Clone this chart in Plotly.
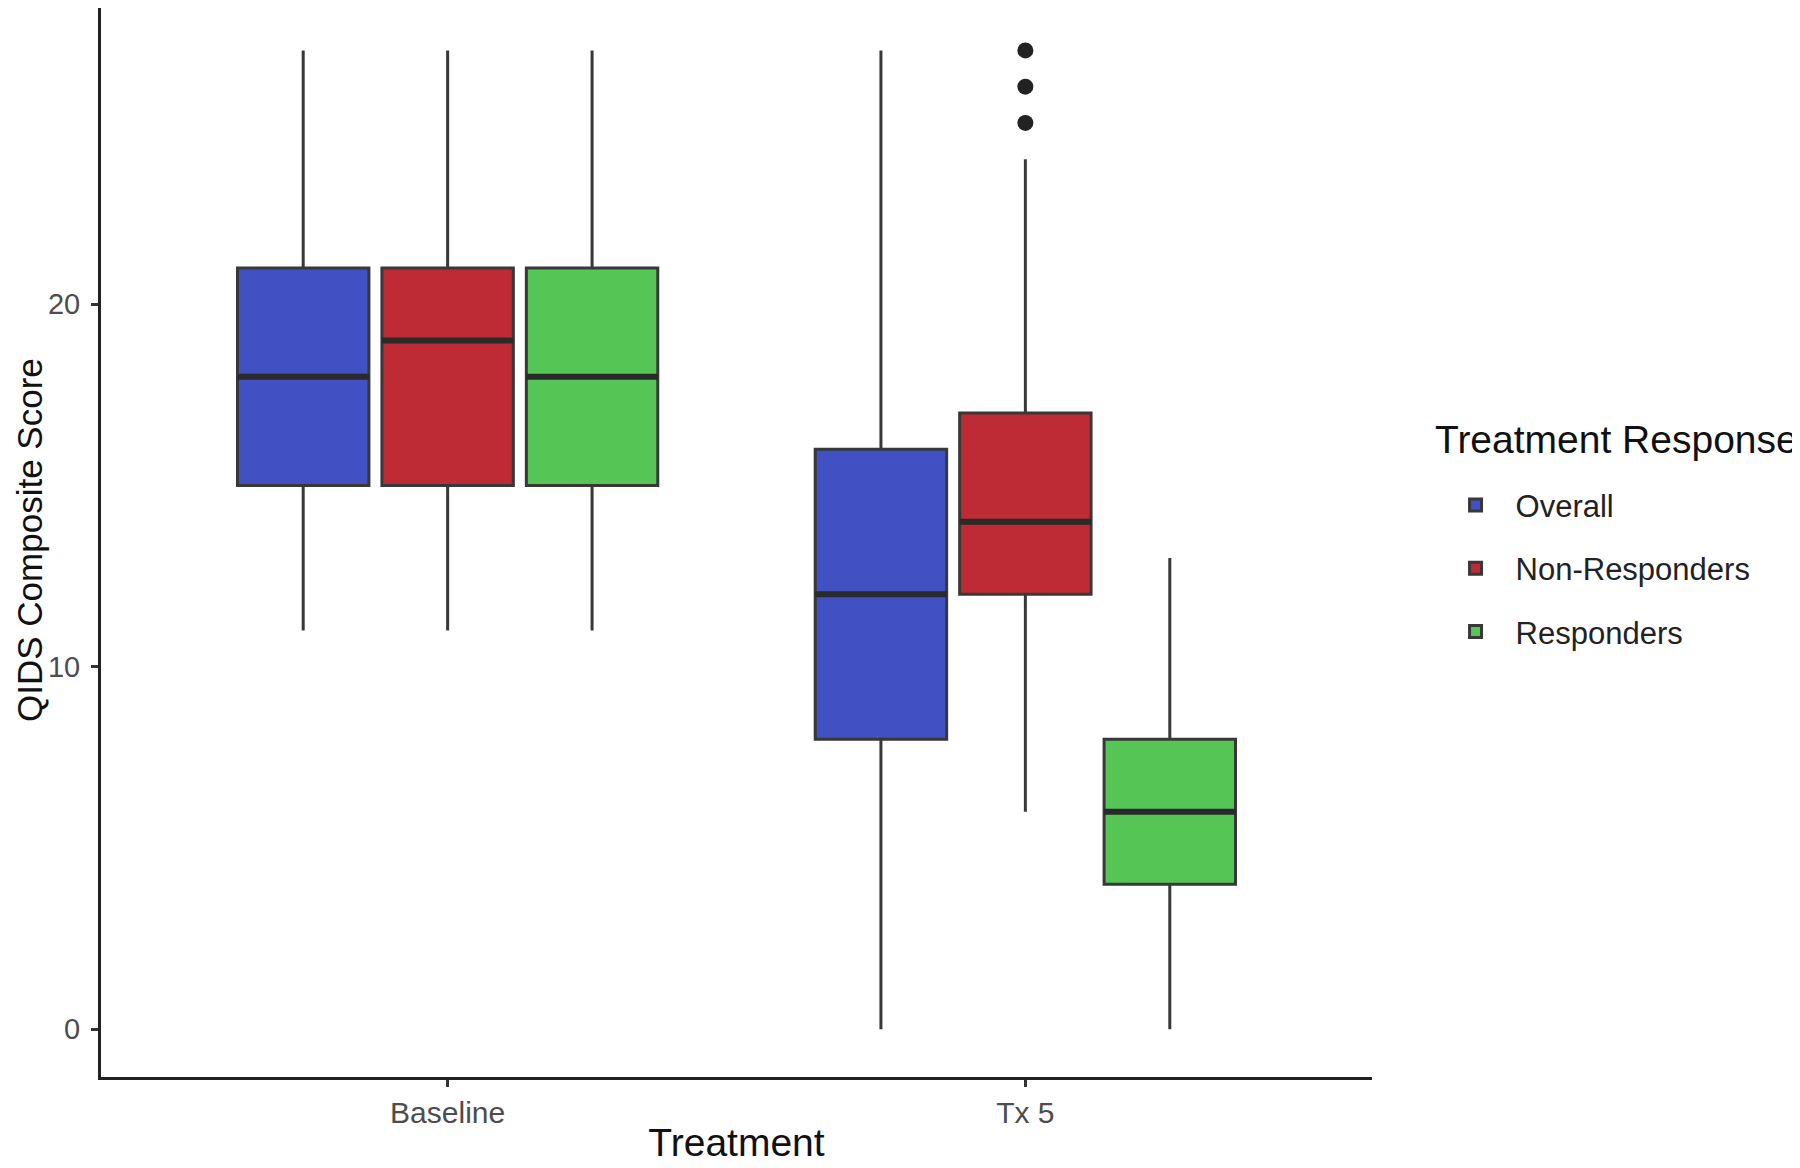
import plotly.graph_objects as go

categories = ["Baseline", "Tx 5"]
groups = ["Overall", "Non-Responders", "Responders"]
colors = ["#4150C2", "#BE2B34", "#55C655"]

lowerfence = {"Overall": [11, 0], "Non-Responders": [11, 6], "Responders": [11, 0]}
q1 = {"Overall": [15, 8], "Non-Responders": [15, 12], "Responders": [15, 4]}
median = {"Overall": [18, 12], "Non-Responders": [19, 14], "Responders": [18, 6]}
q3 = {"Overall": [21, 16], "Non-Responders": [21, 17], "Responders": [21, 8]}
upperfence = {"Overall": [27, 27], "Non-Responders": [27, 24], "Responders": [27, 13]}

outlier_x = ["Tx 5", "Tx 5", "Tx 5"]
outlier_y = [25, 26, 27]

fig = go.Figure()
for g, c in zip(groups, colors):
    fig.add_trace(go.Box(
        x=categories, q1=q1[g], median=median[g], q3=q3[g],
        lowerfence=lowerfence[g], upperfence=upperfence[g],
        name=g, fillcolor=c, line=dict(color="#383838", width=3),
        whiskerwidth=0, boxpoints=False, legendgroup=g,
        offsetgroup=g, alignmentgroup="a", hoverinfo="skip",
    ))
# thicker median lines (ggplot style), drawn on the same offset slots
for g in groups:
    fig.add_trace(go.Box(
        x=categories, q1=median[g], median=median[g], q3=median[g],
        lowerfence=median[g], upperfence=median[g],
        name=g, fillcolor="rgba(0,0,0,0)", line=dict(color="#2a2a2a", width=6),
        whiskerwidth=0, boxpoints=False, legendgroup=g, showlegend=False,
        offsetgroup=g, alignmentgroup="a", hoverinfo="skip",
    ))

fig.add_trace(go.Scatter(
    x=outlier_x, y=outlier_y, mode="markers",
    marker=dict(color="#222222", size=16), showlegend=False, hoverinfo="y",
))

fig.add_annotation(
    text="Treatment Response", xref="paper", yref="paper",
    x=1.048, y=0.596, xanchor="left", yanchor="middle", showarrow=False,
    font=dict(size=39, color="#111"),
)
fig.add_annotation(
    text="QIDS Composite Score", xref="paper", yref="paper",
    x=-0.0731, y=0.502, xanchor="left", yanchor="middle", showarrow=False,
    textangle=-90, font=dict(size=35, color="#111"),
)

fig.update_layout(
    width=1792, height=1160,
    paper_bgcolor="white", plot_bgcolor="white",
    boxmode="group", boxgap=0.25, boxgroupgap=0.09,
    margin=dict(l=93, r=428, t=0, b=91),
    font=dict(family="Liberation Sans, Arial, sans-serif"),
    legend=dict(
        font=dict(size=31, color="#222"),
        x=1.05, y=0.56, xanchor="left", yanchor="top",
        tracegroupgap=20, itemwidth=70, bgcolor="rgba(0,0,0,0)",
    ),
    xaxis=dict(
        range=[-0.6, 1.6], showline=True, linecolor="#222", linewidth=3,
        ticks="outside", ticklen=7, tickwidth=2.5, tickcolor="#333",
        tickfont=dict(size=30, color="#4d4d4d"), showgrid=False, zeroline=False,
        automargin=False,
        title=dict(text="Treatment", font=dict(size=39, color="#111"), standoff=1),
    ),
    yaxis=dict(
        range=[-1.32, 28.17], showline=True, linecolor="#222", linewidth=3,
        ticks="outside", ticklen=7, tickwidth=2.5, tickcolor="#333",
        tickvals=[0, 10, 20], tickfont=dict(size=29, color="#4d4d4d"),
        ticklabelstandoff=5,
        showgrid=False, zeroline=False, automargin=False,
    ),
)

fig.write_html("out.html")
